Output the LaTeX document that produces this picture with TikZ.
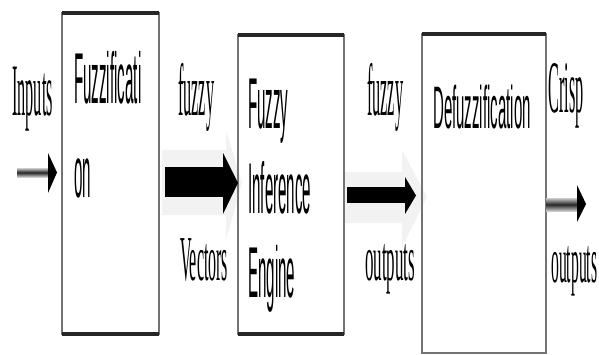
\documentclass[tikz,border=0pt]{standalone}
\usepackage{fontspec}
\setmainfont{Liberation Serif}
\setsansfont{Liberation Sans}
\usetikzlibrary{calc}
\begin{document}
\begin{tikzpicture}[x=1pt,y=-1pt,
  boxnode/.style={draw=black!55, line width=1.3pt, inner sep=0pt, outer sep=0pt, anchor=north west},
  heavyline/.style={draw=black!85, line width=3.6pt},
  lab/.style={inner sep=0pt, anchor=base west},
  serifA/.style={lab, font=\rmfamily\fontsize{74}{80}\selectfont},
  serifB/.style={lab, font=\rmfamily\fontsize{64}{70}\selectfont},
  sansA/.style={lab, font=\sffamily\fontsize{72}{80}\selectfont},
  sansB/.style={lab, font=\sffamily\fontsize{60}{70}\selectfont},
  glow/.style={fill=black!5, draw=none},
  shaftshade/.style={top color=black!20, bottom color=black!20, middle color=black!85}]
\useasboundingbox (0,0) rectangle (599,354);

% faint glows behind the big arrows
\fill[glow] (162,150) -- (226,150) -- (226,130) -- (242,183) -- (226,240) -- (226,215) -- (162,215) -- cycle;
\fill[glow] (343,172) -- (402,172) -- (402,150) -- (427,197) -- (402,247) -- (402,223) -- (343,223) -- cycle;

% boxes
\node[boxnode, minimum width=97pt, minimum height=321pt] (b1) at (62,13) {};
\node[boxnode, minimum width=106pt, minimum height=299pt] (b2) at (238,35) {};
\node[boxnode, minimum width=124pt, minimum height=319pt] (b3) at (422,34) {};
\draw[heavyline] (b1.north west) -- (b1.north east);
\draw[heavyline] (b1.south west) -- (b1.south east);
\draw[heavyline] (b2.north west) -- (b2.north east);
\draw[heavyline] (b2.south west) -- (b2.south east);
\draw[heavyline] (b3.north west) -- (b3.north east);

% input arrow
\coordinate (inTip) at (57,172.5);
\shade[shaftshade] (17,168) rectangle (49,177);
\fill (48,153) -- (inTip) -- (48,193) -- cycle;

% big arrow 1
\coordinate (a1Tip) at (238,183);
\fill (165,167) rectangle (224,197);
\fill (223,153) -- (a1Tip) -- (223,214) -- cycle;

% big arrow 2
\coordinate (a2Tip) at (416,195.5);
\fill (347,187) rectangle (406,203);
\fill (405,177) -- (a2Tip) -- (405,214) -- cycle;

% output arrow
\coordinate (outTip) at (586,204);
\shade[shaftshade] (b3.east |- 0,198) rectangle (578,211);
\fill (577,185) -- (outTip) -- (577,222) -- cycle;

% labels
\node[serifA] (tInputs) at (12,115) {\scalebox{0.22}[1]{Inputs}};
\node[sansA] (tFuzzA) at (74,103) {\scalebox{0.21}[1]{Fuzzificati}};
\node[sansA] (tFuzzB) at (74,197) {\scalebox{0.21}[1]{on}};
\node[serifA] (tFuzzy1) at (178,115) {\scalebox{0.22}[1]{fuzzy}};
\node[serifB] (tVectors) at (180,280) {\scalebox{0.25}[1]{Vectors}};
\node[sansA] (tFie1) at (248,128) {\scalebox{0.21}[1]{Fuzzy}};
\node[sansA] (tFie2) at (248,213) {\scalebox{0.21}[1]{Inference}};
\node[sansA] (tFie3) at (248,297) {\scalebox{0.21}[1]{Engine}};
\node[serifA] (tFuzzy2) at (367,115) {\scalebox{0.22}[1]{fuzzy}};
\node[serifB] (tOut1) at (365,280) {\scalebox{0.265}[1]{outputs}};
\node[sansB] (tDefuzz) at (433,128) {\scalebox{0.25}[1]{Defuzzification}};
\node[serifA] (tCrisp) at (548,112) {\scalebox{0.22}[1]{Crisp}};
\node[serifB] (tOut2) at (551,282) {\scalebox{0.245}[1]{outputs}};
\end{tikzpicture}
\end{document}
